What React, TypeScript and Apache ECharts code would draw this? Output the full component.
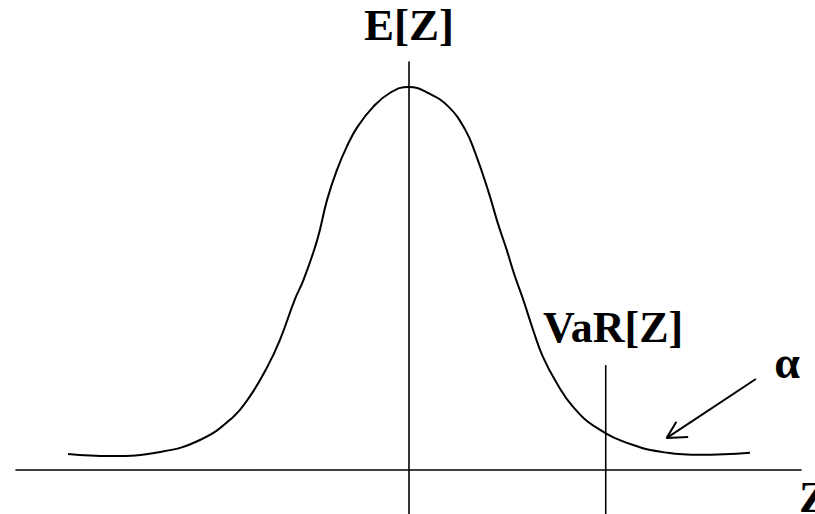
import React, { useEffect, useRef } from "react";
import * as echarts from "echarts";

// Bell curve: z position and relative height above the Z axis
const curveZ = [
  -3.47, -3.04, -2.53, -2.12, -1.8, -1.62, -1.44, -1.31, -1.16, -1.07, -0.93, -0.83, -0.73, -0.63, -0.52, -0.36, -0.19, 0,
  0.2, 0.41, 0.58, 0.68, 0.81, 0.91, 1.0, 1.08, 1.17, 1.27, 1.37, 1.51, 1.68, 1.92, 2.29, 2.64, 2.97, 3.48,
];
const curveH = [
  0.039, 0.034, 0.044, 0.074, 0.127, 0.179, 0.252, 0.319, 0.417, 0.466, 0.564, 0.662, 0.735, 0.792, 0.841, 0.89, 0.924, 0.939,
  0.924, 0.89, 0.833, 0.777, 0.686, 0.605, 0.54, 0.478, 0.417, 0.343, 0.277, 0.213, 0.154, 0.103, 0.061, 0.042, 0.037, 0.042,
];

// VaR marker
const varZ = 2.01;
const varTop = 0.257;

// Arrow pointing at the tail (alpha)
const arrowTail = [3.54, 0.223];
const arrowTip = [2.63, 0.078];
const arrowBarbA = [2.85, 0.081];
const arrowBarbB = [2.73, 0.118];

// Axis ranges
const zMin = -4;
const zMax = 4;
const hMin = -0.108;
const hMax = 1;

// Labels
const meanLabel = "E[Z]";
const varLabel = "VaR[Z]";
const alphaLabel = "α";
const axisLabel = "Z";

const serif = '"Liberation Serif", "Times New Roman", "DejaVu Serif", serif';

export default function App() {
  const ref = useRef<HTMLDivElement>(null);

  useEffect(() => {
    if (!ref.current) return;
    const chart = echarts.init(ref.current, undefined, { renderer: "svg" });
    const black = "#000";
    chart.setOption({
      animation: false,
      backgroundColor: "#fff",
      grid: { left: 16, right: 14, top: 62, bottom: 0 },
      xAxis: {
        type: "value",
        min: zMin,
        max: zMax,
        axisLine: { show: true, onZero: true, lineStyle: { color: black, width: 1.6 } },
        axisTick: { show: false },
        axisLabel: { show: false },
        splitLine: { show: false },
      },
      yAxis: {
        type: "value",
        min: hMin,
        max: hMax,
        axisLine: { show: true, onZero: true, lineStyle: { color: black, width: 1.6 } },
        axisTick: { show: false },
        axisLabel: { show: false },
        splitLine: { show: false },
      },
      series: [
        {
          type: "line",
          data: curveZ.map((z, i) => [z, curveH[i]]),
          smooth: 0.45,
          symbol: "none",
          lineStyle: { color: black, width: 2 },
        },
        {
          type: "line",
          data: [
            [varZ, hMin],
            [varZ, varTop],
          ],
          symbol: "none",
          lineStyle: { color: black, width: 1.6 },
        },
        {
          type: "line",
          data: [arrowTail, arrowTip],
          symbol: "none",
          lineStyle: { color: black, width: 2 },
        },
        {
          type: "line",
          data: [arrowBarbA, arrowTip, arrowBarbB],
          symbol: "none",
          lineStyle: { color: black, width: 2 },
        },
      ],
      graphic: [
        {
          type: "text",
          x: 409,
          y: 25,
          style: {
            text: meanLabel,
            font: `bold 45px ${serif}`,
            fill: black,
            textAlign: "center",
            textVerticalAlign: "middle",
          },
        },
        {
          type: "text",
          x: 543,
          y: 327,
          style: {
            text: varLabel,
            font: `bold 44px ${serif}`,
            fill: black,
            textAlign: "left",
            textVerticalAlign: "middle",
          },
        },
        {
          type: "text",
          x: 787,
          y: 362,
          style: {
            text: alphaLabel,
            font: `bold 46px ${serif}`,
            fill: black,
            textAlign: "center",
            textVerticalAlign: "middle",
          },
        },
        {
          type: "text",
          x: 799,
          y: 497,
          style: {
            text: axisLabel,
            font: `bold 45px ${serif}`,
            fill: black,
            textAlign: "left",
            textVerticalAlign: "middle",
          },
        },
      ],
    });
    return () => chart.dispose();
  }, []);

  return (
    <div
      ref={ref}
      style={{ position: "absolute", left: 0, top: 0, width: 815, height: 514, background: "#fff" }}
    />
  );
}
